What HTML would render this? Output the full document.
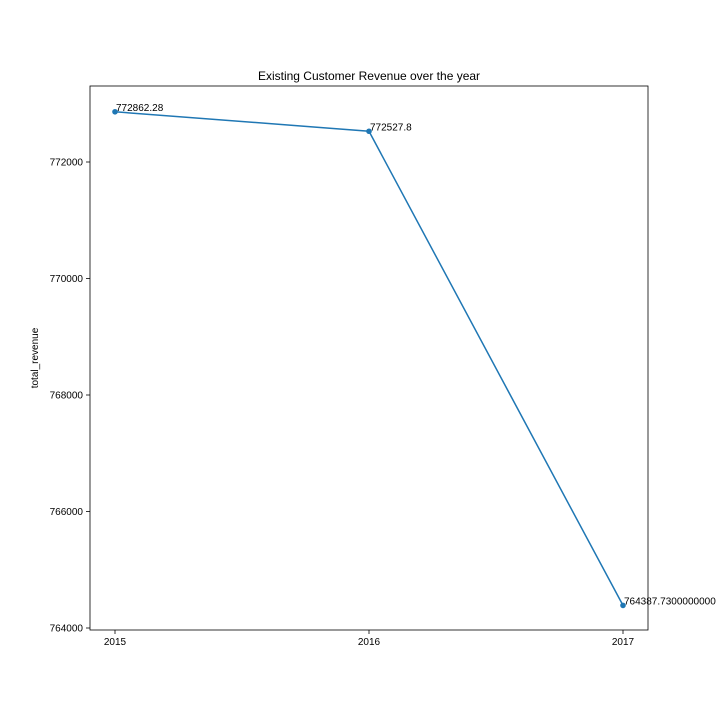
<!DOCTYPE html>
<html><head><meta charset="utf-8"><style>
body{margin:0;background:#fff;}
svg{display:block;font-family:"Liberation Sans",sans-serif;}
</style></head><body>
<svg id="chart" width="720" height="720">
<rect x="0" y="0" width="720" height="720" fill="#fff"/>
<text x="369" y="80" font-size="12" text-anchor="middle">Existing Customer Revenue over the year</text>
<text x="0" y="0" font-size="10" text-anchor="middle" transform="translate(38,358) rotate(-90)">total_revenue</text>
<g id="axes"></g>
<g id="marks"></g>
<rect x="90" y="86" width="558" height="544" fill="none" stroke="#000" stroke-width="0.8"/>
</svg>
<script>
const years = [2015, 2016, 2017];
const revenue = [772862.28, 772527.8, 764387.73];
const valueLabels = ["772862.28", "772527.8", "764387.7300000000"];
const yTicks = [764000, 766000, 768000, 770000, 772000];

const NS = "http://www.w3.org/2000/svg";
function xScale(v){ return 115 + (v - 2015) * (623 - 115) / 2; }
function yScale(v){ return 628 - (v - 764000) * (466 / 8000); }
function mk(tag, attrs, parent){
  const e = document.createElementNS(NS, tag);
  for (const k in attrs) e.setAttribute(k, attrs[k]);
  parent.appendChild(e); return e;
}
const axes = document.getElementById('axes');
const marks = document.getElementById('marks');
years.forEach(y => {
  const x = xScale(y);
  const t = mk('line', {x1:x, x2:x, y1:630, y2:634, stroke:'#000', 'stroke-width':0.8}, axes);
  
  
  const l = mk('text', {x:x, y:645, 'font-size':10, 'text-anchor':'middle'}, axes);
  l.textContent = y;
  
  
});
yTicks.forEach(v => {
  const y = yScale(v);
  const t = mk('line', {x1:86, x2:90, y1:y, y2:y, stroke:'#000', 'stroke-width':0.8}, axes);
  
  
  const l = mk('text', {x:83, y:y+3.5, 'font-size':10, 'text-anchor':'end'}, axes);
  l.textContent = v;
  
  
});
const pts = years.map((y,i) => xScale(y) + ',' + yScale(revenue[i])).join(' ');
const line = mk('polyline', {points:pts, fill:'none', stroke:'#1f77b4', 'stroke-width':1.5}, marks);


years.forEach((y,i) => {
  const c = mk('circle', {cx:xScale(y), cy:yScale(revenue[i]), r:2.8, fill:'#1f77b4'}, marks);
  
  
  const t = mk('text', {x:xScale(y)+1, y:yScale(revenue[i])-1, 'font-size':10}, marks);
  t.textContent = valueLabels[i];
  
  
});
</script>
</body></html>
